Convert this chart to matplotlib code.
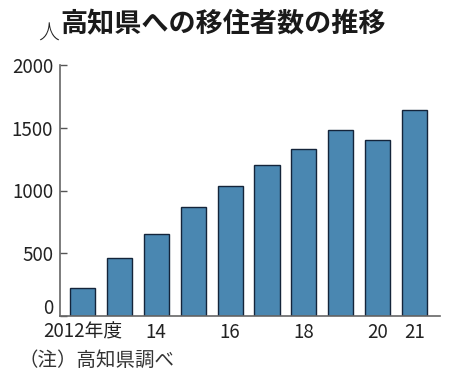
import matplotlib.pyplot as plt
import matplotlib.transforms as mtransforms
import numpy as np

years = ['2012年度', '13', '14', '15', '16', '17', '18', '19', '20', '21']
shown = ['2012年度', '', '14', '', '16', '', '18', '', '20', '21']
movers = [225, 465, 650, 865, 1035, 1200, 1330, 1480, 1400, 1645]
yticks = [0, 500, 1000, 1500, 2000]

plt.rcParams['font.family'] = ['Noto Sans CJK JP', 'DejaVu Sans']

fig = plt.figure(figsize=(4.53, 3.89), dpi=100)
ax = fig.add_axes([60/453, 1-316/389, 380/453, 251/389])

x = np.arange(len(movers))
ax.bar(x, movers, width=0.68, color='#4a87b1', edgecolor='#14243a', linewidth=1.0, zorder=2)

ax.set_xlim(-0.61, 9.69)
ax.set_ylim(0, 2000)
ax.set_yticks(yticks)
ax.set_yticklabels([str(v) for v in yticks], fontsize=13.5, color='#222222')
ax.set_xticks(x)
ax.set_xticklabels(shown, fontsize=13.5, color='#222222')
ax.tick_params(axis='y', direction='in', length=5, width=1, color='#555555', pad=5)
ax.tick_params(axis='x', length=0, pad=4)

# the 0 label sits on the baseline, not centred on it
zero = ax.get_yticklabels()[0]
zero.set_transform(zero.get_transform() + mtransforms.ScaledTranslation(0, 7/72, fig.dpi_scale_trans))

for s in ['top', 'right']:
    ax.spines[s].set_visible(False)
for s in ['left', 'bottom']:
    ax.spines[s].set_color('#666666')
    ax.spines[s].set_linewidth(1.2)

fig.text(38/453, 1-40/389, '人', fontsize=15, fontweight='light', color='#222222', va='baseline')
fig.text(60/453, 1-32/389, '高知県への移住者数の推移', fontsize=19.5, fontweight='bold',
         color='#1a1a1a', va='baseline')
fig.text(18/453, 1-366/389, '（注）高知県調べ', fontsize=14, color='#333333', va='baseline')

fig.savefig('out.png', dpi=100)
